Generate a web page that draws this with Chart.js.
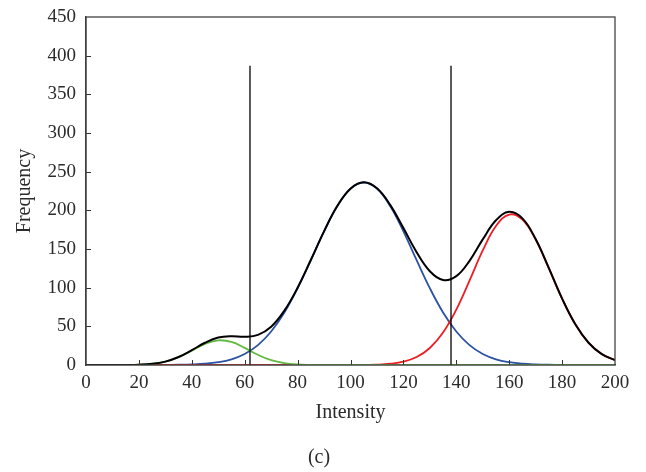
<!DOCTYPE html>
<html><head><meta charset="utf-8">
<script src="https://cdn.jsdelivr.net/npm/chart.js@4/dist/chart.umd.min.js"></script>
<style>html,body{margin:0;padding:0;background:#fff}#wrap{width:646px;height:472px;position:relative}</style>
</head><body><div id="wrap"><canvas id="c"></canvas></div>
<script>
// Intensity sample positions (x values)
const intensity = [0,5,10,15,20,25,30,35,40,45,50,55,60,65,70,75,80,85,90,95,100,105,110,115,120,125,130,135,140,145,150,155,160,165,170,175,180,185,190,195,200];
// Fitted component curves (frequency)
const greenFit = [0,0,0,0.1,0.4,1.5,4.3,10.0,18.5,27.2,31.9,29.8,22.2,13.2,6.2,2.4,0.7,0.2,0,0,0,0,0,0,0,0,0,0,0,0,0,0,0,0,0,0,0,0,0,0,0];
const blueFit  = [0,0,0,0,0,0,0.1,0.3,0.7,1.6,3.6,7.4,14.3,25.7,43.3,67.9,99.3,135.6,172.8,205.5,228.0,236.0,228.0,205.5,172.8,135.6,99.3,67.9,43.3,25.7,14.3,7.4,3.6,1.6,0.7,0.3,0.1,0,0,0,0];
const redFit   = [0,0,0,0,0,0,0,0,0,0,0,0,0,0,0,0,0,0,0,0,0,0.2,0.5,1.6,4.3,10.3,22.0,42.0,71.6,109.0,148.1,179.7,194.6,188.0,162.2,124.9,85.8,52.7,28.8,14.1,6.2];
const totalFit = [0,0,0,0.1,0.4,1.5,4.4,10.3,19.2,28.8,35.5,37.2,36.5,38.9,49.5,70.3,100.0,135.8,172.8,205.5,228.0,236.2,228.5,207.1,177.1,145.9,121.3,109.9,114.9,134.7,162.4,187.1,198.2,189.6,162.9,125.2,85.9,52.7,28.8,14.1,6.2];
// Threshold lines
const thresholds = [62, 138];
const thresholdTop = 387;
// Axis ticks
const xTicks = [0,20,40,60,80,100,120,140,160,180,200];
const yTicks = [0,50,100,150,200,250,300,350,400,450];

const pts = arr => arr.map((v,i)=>({x:intensity[i], y:v}));
const vline = t => [{x:t,y:0},{x:t,y:thresholdTop}];

const FONT = "'Liberation Serif', 'Times New Roman', serif";
const TXT = '#2b2b2b';

const tickPlugin = {
  id: 'innerTicks',
  afterDraw(chart) {
    const {ctx, chartArea:a, scales:{x, y}} = chart;
    ctx.save();
    ctx.strokeStyle = '#333';
    ctx.lineWidth = 1;
    ctx.beginPath();
    xTicks.slice(1,-1).forEach(v => {
      const px = Math.round(x.getPixelForValue(v)) + 0.5;
      ctx.moveTo(px, a.bottom); ctx.lineTo(px, a.bottom - 5);
    });
    yTicks.slice(1,-1).forEach(v => {
      const py = Math.round(y.getPixelForValue(v)) + 0.5;
      ctx.moveTo(a.left, py); ctx.lineTo(a.left + 5, py);
    });
    ctx.stroke();
    ctx.strokeStyle = '#444';
    ctx.lineWidth = 1.3;
    ctx.strokeRect(a.left, a.top, a.right - a.left, a.bottom - a.top);
    ctx.restore();
  }
};

new Chart(document.getElementById('c'), {
  type: 'line',
  data: {
    datasets: [
      {data: pts(totalFit), borderColor:'#000000', borderWidth:2, pointRadius:0, tension:0.4, fill:false},
      {data: vline(thresholds[0]), borderColor:'#000000', borderWidth:1.3, pointRadius:0, tension:0},
      {data: vline(thresholds[1]), borderColor:'#000000', borderWidth:1.3, pointRadius:0, tension:0},
      {data: pts(greenFit), borderColor:'#62b940', borderWidth:1.8, pointRadius:0, tension:0.4, fill:false},
      {data: pts(redFit), borderColor:'#ee1d24', borderWidth:1.8, pointRadius:0, tension:0.4, fill:false},
      {data: pts(blueFit), borderColor:'#2b52a3', borderWidth:1.8, pointRadius:0, tension:0.4, fill:false}
    ]
  },
  options: {
    responsive: true,
    maintainAspectRatio: false,
    animation: false,
    layout: {padding: {left:23, right:31, top:17, bottom:0}},
    plugins: {
      legend: {display:false},
      tooltip: {enabled:false},
      title: {display:true, position:'bottom', text:'(c)', color:TXT,
              font:{family:FONT, size:20, weight:'normal', lineHeight:1.2}, padding:{top:0,bottom:2}}
    },
    scales: {
      x: {
        type:'linear', min:0, max:200,
        afterFit: s => { s.height = 81; s.paddingLeft = 0; s.paddingRight = 0; },
        afterBuildTicks: s => { s.ticks = xTicks.map(v=>({value:v})); },
        grid:{display:false, drawTicks:false},
        border:{display:true, color:'#333', width:1.3},
        ticks:{color:TXT, font:{family:FONT, size:19}, padding:7, maxRotation:0},
        title:{display:true, text:'Intensity', color:TXT, font:{family:FONT, size:20, lineHeight:1.2}, padding:{top:0,bottom:21}}
      },
      y: {
        type:'linear', min:0, max:450,
        afterFit: s => { s.width = 63; s.paddingTop = 0; s.paddingBottom = 0; },
        afterBuildTicks: s => { s.ticks = yTicks.map(v=>({value:v})); },
        grid:{display:false, drawTicks:false},
        border:{display:true, color:'#333', width:1.3},
        ticks:{color:TXT, font:{family:FONT, size:19}, padding:10},
        title:{display:true, text:'Frequency', color:TXT, font:{family:FONT, size:20, lineHeight:1.2}, padding:{top:-10,bottom:0}}
      }
    }
  },
  plugins:[tickPlugin]
});
</script>
</body></html>
